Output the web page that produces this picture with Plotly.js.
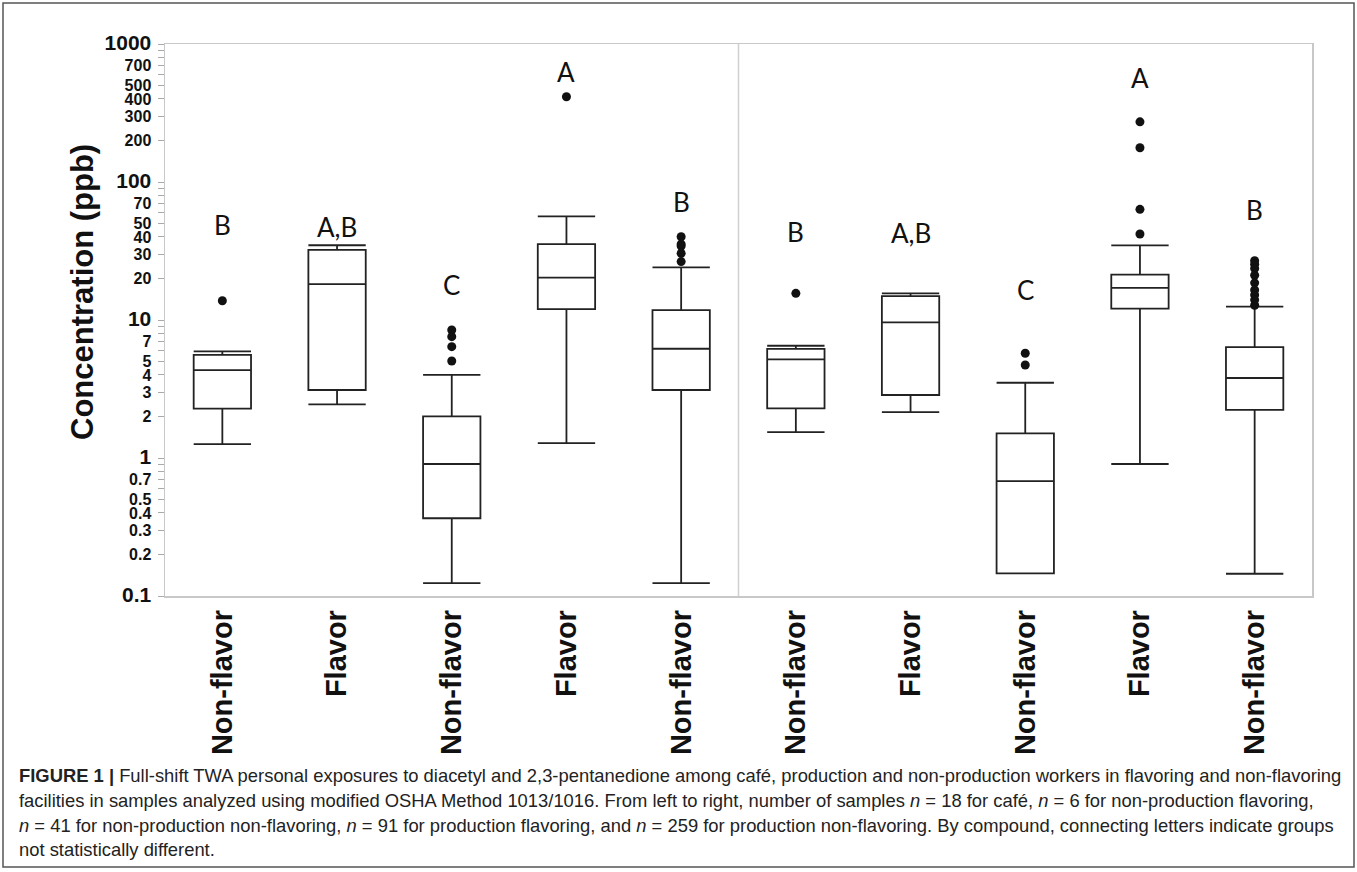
<!DOCTYPE html>
<html><head><meta charset="utf-8">
<script src="https://cdn.plot.ly/plotly-3.0.1.min.js"></script>
<style>html,body{margin:0;padding:0;background:#fff}</style>
</head><body><div id="chart" style="width:1357px;height:872px"></div>
<script>
// ---- data ----
const categories = ["Non-flavor","Flavor","Non-flavor","Flavor","Non-flavor","Non-flavor","Flavor","Non-flavor","Flavor","Non-flavor"];
const q1Values     = [2.28, 3.11, 0.366, 12.0, 3.11, 2.29, 2.86, 0.146, 12.1, 2.23];
const medianValues = [4.34, 18.2, 0.905, 20.3, 6.19, 5.19, 9.62, 0.681, 17.1, 3.80];
const q3Values     = [5.58, 32.2, 2.00, 35.5, 11.8, 6.17, 14.9, 1.51, 21.3, 6.37];
const lowerWhisker = [1.26, 2.45, 0.124, 1.28, 0.124, 1.54, 2.15, 0.146, 0.905, 0.145];
const upperWhisker = [5.93, 34.8, 4.00, 56.4, 24.1, 6.51, 15.6, 3.51, 34.7, 12.5];
const outlierValues = [
  [13.8], [], [8.46, 7.57, 6.41, 5.05], [415], [40.1, 35.5, 34.4, 30.4, 26.5],
  [15.6], [], [5.74, 4.72], [273, 177, 63.4, 42.0],
  [26.9, 25.4, 23.6, 21.1, 18.6, 16.5, 15.2, 14.0, 12.8]
];
const groupLetters = ["B","A,B","C","A","B","B","A,B","C","A","B"];
const letterLevels = [48.8, 47.2, 17.9, 630, 72.0, 43.6, 42.5, 16.5, 564, 62.7];
const yTickValues = [0.1,0.2,0.3,0.4,0.5,0.6,0.7,0.8,0.9,1,2,3,4,5,6,7,8,9,10,20,30,40,50,60,70,80,90,100,200,300,400,500,600,700,800,900,1000];
const yTickLabels = ["0.1","0.2","0.3","0.4","0.5","","0.7","","","1","2","3","4","5","","7","","","10","20","30","40","50","","70","","","100","200","300","400","500","","700","","","1000"];
const majorTickLabels = ["0.1","1","10","100","1000"];
const yTitle = "Concentration (ppb)";
const captionLines = [
  "<b>FIGURE 1 |</b> Full-shift TWA personal exposures to diacetyl and 2,3-pentanedione among café, production and non-production workers in flavoring and non-flavoring",
  "facilities in samples analyzed using modified OSHA Method 1013/1016. From left to right, number of samples <i>n</i> = 18 for café, <i>n</i> = 6 for non-production flavoring,",
  "<i>n</i> = 41 for non-production non-flavoring, <i>n</i> = 91 for production flavoring, and <i>n</i> = 259 for production non-flavoring. By compound, connecting letters indicate groups",
  "not statistically different."
];

// ---- layout geometry ----
const W = 1357, H = 872;
const M = {l:165, r:45, t:44, b:276};
const pw = W - M.l - M.r, ph = H - M.t - M.b;
const px2x = px => (px - M.l) / pw;
const px2y = py => (H - M.b - py) / ph;

const positions = categories.map((_, i) => i);
const ox = [], oy = [];
outlierValues.forEach((arr, i) => arr.forEach(v => { ox.push(i); oy.push(v); }));

const tickText = yTickLabels.map(t => majorTickLabels.includes(t) ? '<span style="font-size:21px">' + t + '</span>' : t);

const traces = [
  {
    type: 'box', x: positions,
    q1: q1Values, median: medianValues, q3: q3Values,
    lowerfence: lowerWhisker, upperfence: upperWhisker,
    boxpoints: false, width: 0.5, whiskerwidth: 1,
    line: {color: '#222', width: 1.8}, fillcolor: 'rgba(255,255,255,0)',
    showlegend: false, hoverinfo: 'skip'
  },
  {
    type: 'scatter', mode: 'markers', x: ox, y: oy,
    marker: {color: '#111', size: 9}, showlegend: false, hoverinfo: 'skip'
  }
];

const annotations = groupLetters.map((t, i) => ({
  xref: 'x', yref: 'y', x: i, y: Math.log10(letterLevels[i]), text: t,
  showarrow: false, xanchor: 'center', yanchor: 'middle',
  font: {family: 'Lato, "Open Sans", sans-serif', size: 26, color: '#111'}
}));
annotations.push({
  xref: 'paper', yref: 'paper', x: px2x(82), y: px2y(292), text: '<b>' + yTitle + '</b>',
  textangle: -90, showarrow: false, xanchor: 'center', yanchor: 'middle',
  font: {family: '"Liberation Sans", Arial, sans-serif', size: 31, color: '#111'}
});
const captionStart = annotations.length;
const captionY = [776, 801, 826, 850];
captionLines.forEach((t, i) => annotations.push({
  xref: 'paper', yref: 'paper', x: px2x(17), y: px2y(captionY[i]), text: t,
  showarrow: false, xanchor: 'left', yanchor: 'middle', align: 'left',
  font: {family: '"Liberation Sans", Arial, sans-serif', size: 18, color: '#222'}
}));

const layout = {
  width: W, height: H, margin: M,
  paper_bgcolor: '#fff', plot_bgcolor: '#fff',
  showlegend: false,
  xaxis: {
    range: [-0.5, 9.5], tickmode: 'array', tickvals: positions, ticktext: categories,
    tickangle: -90, ticks: '', showgrid: false, zeroline: false,
    showline: true, mirror: true, linecolor: '#c8c8c8', linewidth: 1.5,
    tickfont: {family: '"Liberation Sans", Arial, sans-serif', size: 29, weight: 'bold', color: '#111'},
    ticklabelstandoff: 1, automargin: false
  },
  yaxis: {
    type: 'log', range: [-1, 3], tickmode: 'array', tickvals: yTickValues, ticktext: tickText,
    ticks: 'outside', ticklen: 6, tickcolor: '#aaa', tickwidth: 1,
    showgrid: false, zeroline: false,
    showline: true, mirror: true, linecolor: '#c8c8c8', linewidth: 1.5,
    tickfont: {family: '"Liberation Sans", Arial, sans-serif', size: 16, weight: 'bold', color: '#111'},
    ticklabelstandoff: 3, automargin: false
  },
  shapes: [
    {type: 'line', xref: 'x', yref: 'paper', x0: 4.5, x1: 4.5, y0: 0, y1: 1,
     line: {color: '#d0d0d0', width: 1.5}},
    {type: 'rect', xref: 'paper', yref: 'paper', x0: px2x(3), x1: px2x(1354), y0: px2y(3), y1: px2y(867),
     line: {color: '#555', width: 1.5}}
  ],
  annotations: annotations
};

Plotly.newPlot('chart', traces, layout, {staticPlot: true, displayModeBar: false}).then(gd => {
  // condense the caption lines horizontally so the first line spans the caption width, as in the reference
  const texts = [];
  gd.querySelectorAll('g.annotation').forEach(g => {
    const idx = +g.getAttribute('data-index');
    if (idx >= captionStart) texts.push(g.querySelector('text.annotation-text'));
  });
  if (!texts.length) return;
  const w = texts[0].getBBox().width;
  const s = w > 0 ? 1323 / w : 1;
  texts.forEach(t => {
    t.style.transformBox = 'fill-box';
    t.style.transformOrigin = 'left center';
    t.style.transform = 'scaleX(' + s.toFixed(4) + ')';
  });
});
</script></body></html>
